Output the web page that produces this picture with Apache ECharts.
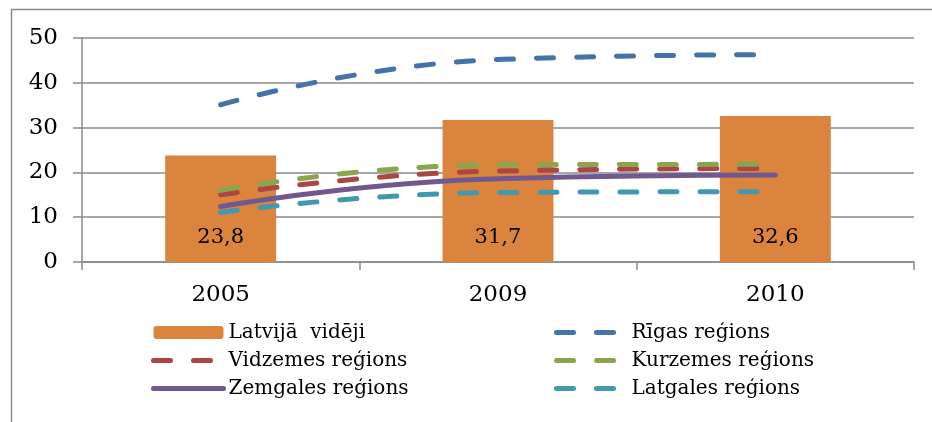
<!DOCTYPE html>
<html>
<head>
<meta charset="utf-8">
<script src="https://cdn.jsdelivr.net/npm/echarts@6/dist/echarts.min.js"></script>
<style>
  html, body { margin: 0; padding: 0; background: #fff; }
  #chart { width: 932px; height: 422px; }
</style>
</head>
<body>
<div id="chart"></div>
<script>
// categories and values
const years = ['2005', '2009', '2010']
const latvijaVideji = [23.8, 31.7, 32.6]
const rigasRegions = [35.1, 45.2, 46.3]
const vidzemesRegions = [15.0, 20.3, 20.9]
const kurzemesRegions = [16.0, 21.7, 21.8]
const zemgalesRegions = [12.4, 18.6, 19.4]
const latgalesRegions = [11.1, 15.5, 15.7]
const yTicks = [0, 10, 20, 30, 40, 50]

const FONT = 'DejaVu Serif'
const grayLine = '#8a8a8a'
const DASH = [17, 23]

const chart = echarts.init(document.getElementById('chart'))

const dashed = (name, data, color) => ({
  name: name,
  type: 'line',
  data: data,
  smooth: 0.5,
  symbol: 'none',
  color: color,
  lineStyle: { color: color, width: 5, type: DASH, cap: 'round' },
  z: 3
})

// legend entry for a line series: hide the symbol, keep the stroke
const lineEntry = (name, type) => ({
  name: name,
  itemStyle: { color: 'rgba(0,0,0,0)', borderColor: 'rgba(0,0,0,0)', borderWidth: 0 },
  lineStyle: { width: 5, type: type, cap: 'round' }
})

const legendBase = {
  orient: 'vertical',
  top: 322,
  padding: 0,
  itemWidth: 70,
  itemHeight: 13,
  itemGap: 7,
  selectedMode: false,
  formatter: '{t|{name}}',
  textStyle: {
    fontFamily: FONT, fontSize: 20, color: '#000', lineHeight: 21,
    rich: { t: { fontFamily: FONT, fontSize: 20, color: '#000', lineHeight: 21 } }
  }
}

const option = {
  animation: false,
  backgroundColor: '#fff',
  textStyle: { fontFamily: FONT, color: '#000' },
  graphic: [{
    type: 'rect',
    shape: { x: 11.5, y: 9.5, width: 940, height: 440 },
    style: { fill: 'none', stroke: grayLine, lineWidth: 1.5 },
    silent: true
  }],
  grid: { left: 82, right: 18, top: 38, bottom: 160 },
  legend: [
    Object.assign({}, legendBase, {
      left: 151,
      data: [
        'Latvijā  vidēji',
        lineEntry('Vidzemes reģions', DASH),
        lineEntry('Zemgales reģions', 'solid')
      ]
    }),
    Object.assign({}, legendBase, {
      left: 554,
      data: [
        lineEntry('Rīgas reģions', DASH),
        lineEntry('Kurzemes reģions', DASH),
        lineEntry('Latgales reģions', DASH)
      ]
    })
  ],
  xAxis: {
    type: 'category',
    data: years,
    boundaryGap: true,
    axisLine: { lineStyle: { color: grayLine, width: 1.5 } },
    axisTick: { show: true, length: 8, lineStyle: { color: grayLine, width: 1.5 } },
    axisLabel: { fontFamily: FONT, fontSize: 23, color: '#000', margin: 22 }
  },
  yAxis: {
    type: 'value',
    min: yTicks[0],
    max: yTicks[yTicks.length - 1],
    interval: 10,
    axisLine: { show: true, lineStyle: { color: grayLine, width: 1.5 } },
    axisTick: { show: true, length: 9, lineStyle: { color: grayLine, width: 1.5 } },
    axisLabel: { fontFamily: FONT, fontSize: 23, color: '#000', margin: 24 },
    splitLine: { lineStyle: { color: grayLine, width: 1.5 } }
  },
  series: [
    {
      name: 'Latvijā  vidēji',
      type: 'bar',
      data: latvijaVideji,
      barWidth: '40%',
      color: '#db843d',
      itemStyle: { color: '#db843d' },
      label: {
        show: true,
        position: 'insideBottom',
        distance: 14,
        fontFamily: FONT,
        fontSize: 21,
        color: '#000',
        formatter: p => String(p.value).replace('.', ',')
      },
      z: 2
    },
    dashed('Rīgas reģions', rigasRegions, '#4572a7'),
    dashed('Vidzemes reģions', vidzemesRegions, '#aa4643'),
    dashed('Kurzemes reģions', kurzemesRegions, '#89a54e'),
    {
      name: 'Zemgales reģions',
      type: 'line',
      data: zemgalesRegions,
      smooth: 0.5,
      symbol: 'none',
      color: '#71588f',
      lineStyle: { color: '#71588f', width: 5, cap: 'round' },
      z: 3
    },
    dashed('Latgales reģions', latgalesRegions, '#4198af')
  ]
}

chart.setOption(option)
</script>
</body>
</html>
